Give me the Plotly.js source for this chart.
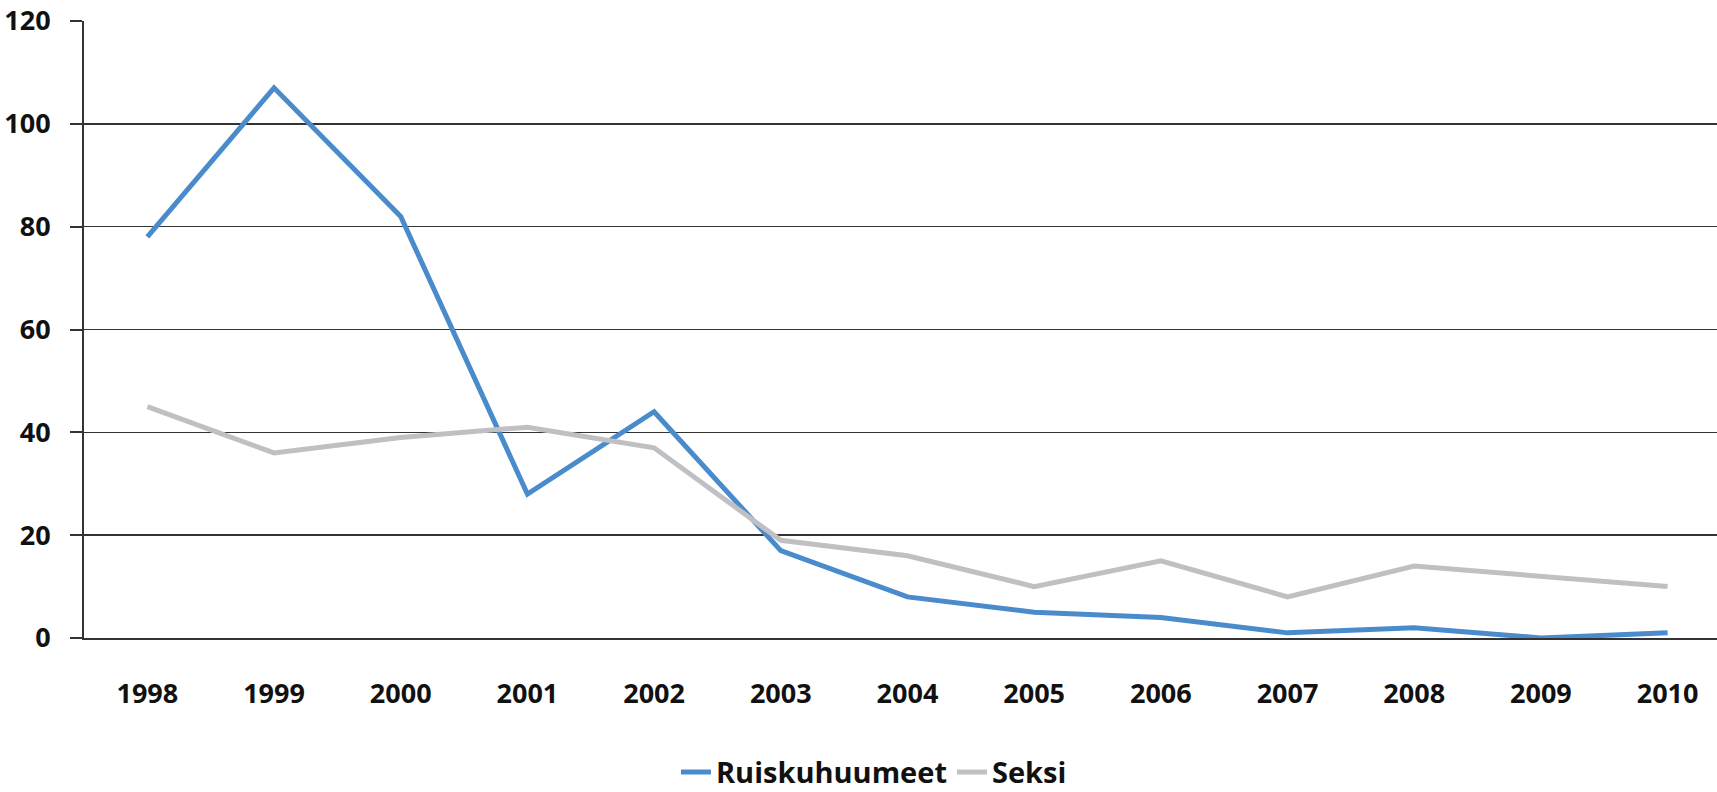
<!DOCTYPE html>
<html>
<head>
<meta charset="utf-8">
<script src="https://cdn.plot.ly/plotly-3.0.1.min.js"></script>
<style>html,body{margin:0;padding:0;background:#fff;}#chart{width:1717px;height:792px;}</style>
</head>
<body>
<div id="chart"></div>
<script>
const years = ["1998","1999","2000","2001","2002","2003","2004","2005","2006","2007","2008","2009","2010"];
const ruiskuhuumeet = [78, 107, 82, 28, 44, 17, 8, 5, 4, 1, 2, 0, 1];
const seksi = [45, 36, 39, 41, 37, 19, 16, 10, 15, 8, 14, 12, 10];
const yTicks = [0, 20, 40, 60, 80, 100, 120];

const font = {family: "Open Sans, Liberation Sans, sans-serif", size: 27, color: "#111", weight: "bold"};
const legFont = {family: "Open Sans, Liberation Sans, sans-serif", size: 29, color: "#111", weight: "bold"};

const traces = [
  {x: years, y: ruiskuhuumeet, name: "Ruiskuhuumeet", type: "scatter", mode: "lines",
   line: {color: "#4a8bcb", width: 5}},
  {x: years, y: seksi, name: "Seksi", type: "scatter", mode: "lines",
   line: {color: "#c0c0c4", width: 5}}
];

const layout = {
  width: 1717, height: 792,
  margin: {l: 84, r: 0, t: 21, b: 154, autoexpand: false},
  paper_bgcolor: "#fff", plot_bgcolor: "#fff",
  font: font,
  showlegend: true,
  legend: {orientation: "h", x: 0.509, xref: "container", xanchor: "center",
           y: 0.025, yref: "container", yanchor: "middle",
           font: legFont, itemwidth: 30, tracegroupgap: 0},
  xaxis: {type: "category", range: [-0.5, 12.39], showgrid: false,
          showline: true, linecolor: "#333", linewidth: 2,
          ticks: "", ticklabelstandoff: 31, tickfont: font, fixedrange: true, automargin: false},
  yaxis: {range: [0, 120], tickvals: yTicks, showgrid: true, gridcolor: "#333", gridwidth: 1.5,
          showline: true, linecolor: "#333", linewidth: 2, zeroline: false,
          ticks: "outside", ticklen: 12, tickcolor: "#333", tickwidth: 2,
          ticklabelstandoff: 14, tickfont: font, fixedrange: true, automargin: false}
};

Plotly.newPlot("chart", traces, layout, {displayModeBar: false, staticPlot: true});
</script>
</body>
</html>
